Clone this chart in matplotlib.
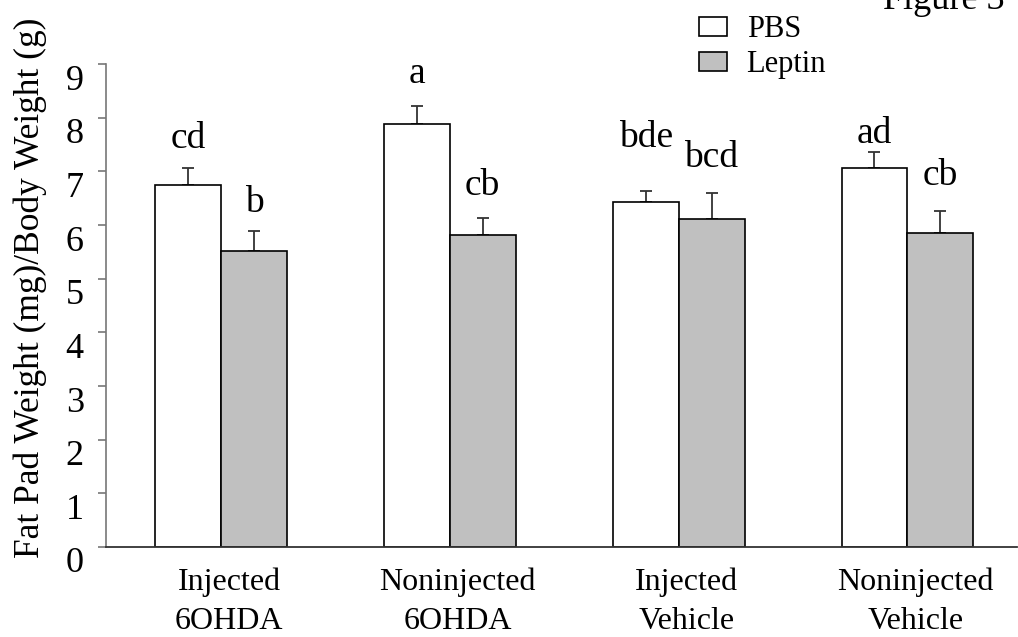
import matplotlib
matplotlib.use("Agg")
import matplotlib.pyplot as plt
import matplotlib.transforms as mtransforms
import numpy as np

# data
groups = ["Injected\n6OHDA", "Noninjected\n6OHDA", "Injected\nVehicle", "Noninjected\nVehicle"]
pbs_mean = [6.75, 7.88, 6.43, 7.06]
pbs_err = [0.31, 0.34, 0.21, 0.30]
lep_mean = [5.52, 5.82, 6.12, 5.86]
lep_err = [0.37, 0.31, 0.47, 0.41]
pbs_letters = ["cd", "a", "bde", "ad"]
pbs_letter_y = [7.43, 8.64, 7.46, 7.53]
lep_letters = ["b", "cb", "bcd", "cb"]
lep_letter_y = [6.25, 6.56, 7.09, 6.75]

plt.rcParams["font.family"] = ["Liberation Serif", "DejaVu Serif"]
FS = 23

fig = plt.figure(figsize=(10.18, 6.37), dpi=100)
ax = fig.add_axes([0.1041, 0.1413, 0.8949, 0.7582])

x = np.arange(len(groups))
w = 0.288
err_kw = dict(ecolor="#333333", elinewidth=1.3, capsize=4, capthick=1.3)
b1 = ax.bar(x - w / 2, pbs_mean, w, color="white", edgecolor="black", linewidth=1.2,
            label="PBS", zorder=2)
b2 = ax.bar(x + w / 2, lep_mean, w, color="#c0c0c0", edgecolor="black", linewidth=1.2,
            label="Leptin", zorder=2)
ax.errorbar(x - w / 2, pbs_mean, yerr=[np.zeros(4), pbs_err], fmt="none", zorder=1, **err_kw)
ax.errorbar(x + w / 2, lep_mean, yerr=[np.zeros(4), lep_err], fmt="none", zorder=1, **err_kw)

for i in range(len(groups)):
    ax.text(x[i] - w / 2, pbs_letter_y[i], pbs_letters[i], ha="center", va="baseline", fontsize=27)
    ax.text(x[i] + w / 2, lep_letter_y[i], lep_letters[i], ha="center", va="baseline", fontsize=27)

ax.set_xlim(-0.503, 3.479)
ax.set_ylim(0, 9)
ax.set_yticks(range(10))
ax.set_xticks(x)
ax.set_xticklabels(groups, fontsize=FS, linespacing=1.45)
ax.tick_params(axis="x", length=0, pad=15)
ax.tick_params(axis="y", length=6, width=1.2, color="#777777", labelsize=26, pad=10, direction="out")

# tick labels sit a bit lower than their ticks in the original
shift_y = mtransforms.ScaledTranslation(0, -13 / 100, fig.dpi_scale_trans)
for lab in ax.get_yticklabels():
    lab.set_transform(lab.get_transform() + shift_y)
shift_x = mtransforms.ScaledTranslation(8 / 100, 0, fig.dpi_scale_trans)
for lab in ax.get_xticklabels():
    lab.set_transform(lab.get_transform() + shift_x)

for s in ["top", "right"]:
    ax.spines[s].set_visible(False)
ax.spines["left"].set_color("#777777")
ax.spines["left"].set_linewidth(1.2)
ax.spines["bottom"].set_color("#333333")
ax.spines["bottom"].set_linewidth(1.3)

fig.text(30 / 1018, 1 - 288 / 637, "Fat Pad Weight (mg)/Body Weight (g)", rotation=90,
         ha="center", va="center", fontsize=25.5)

fig.legend(handles=[b1, b2], loc="upper left", bbox_to_anchor=(687 / 1018, 1 - 3 / 637),
           frameon=False, fontsize=22, handlelength=0.9, handleheight=0.62,
           handletextpad=0.65, labelspacing=0.2, borderaxespad=0)

fig.text(883 / 1018, 1 - 9 / 637, "Figure 3", ha="left", va="baseline", fontsize=26)

fig.savefig("out.png", dpi=100)
